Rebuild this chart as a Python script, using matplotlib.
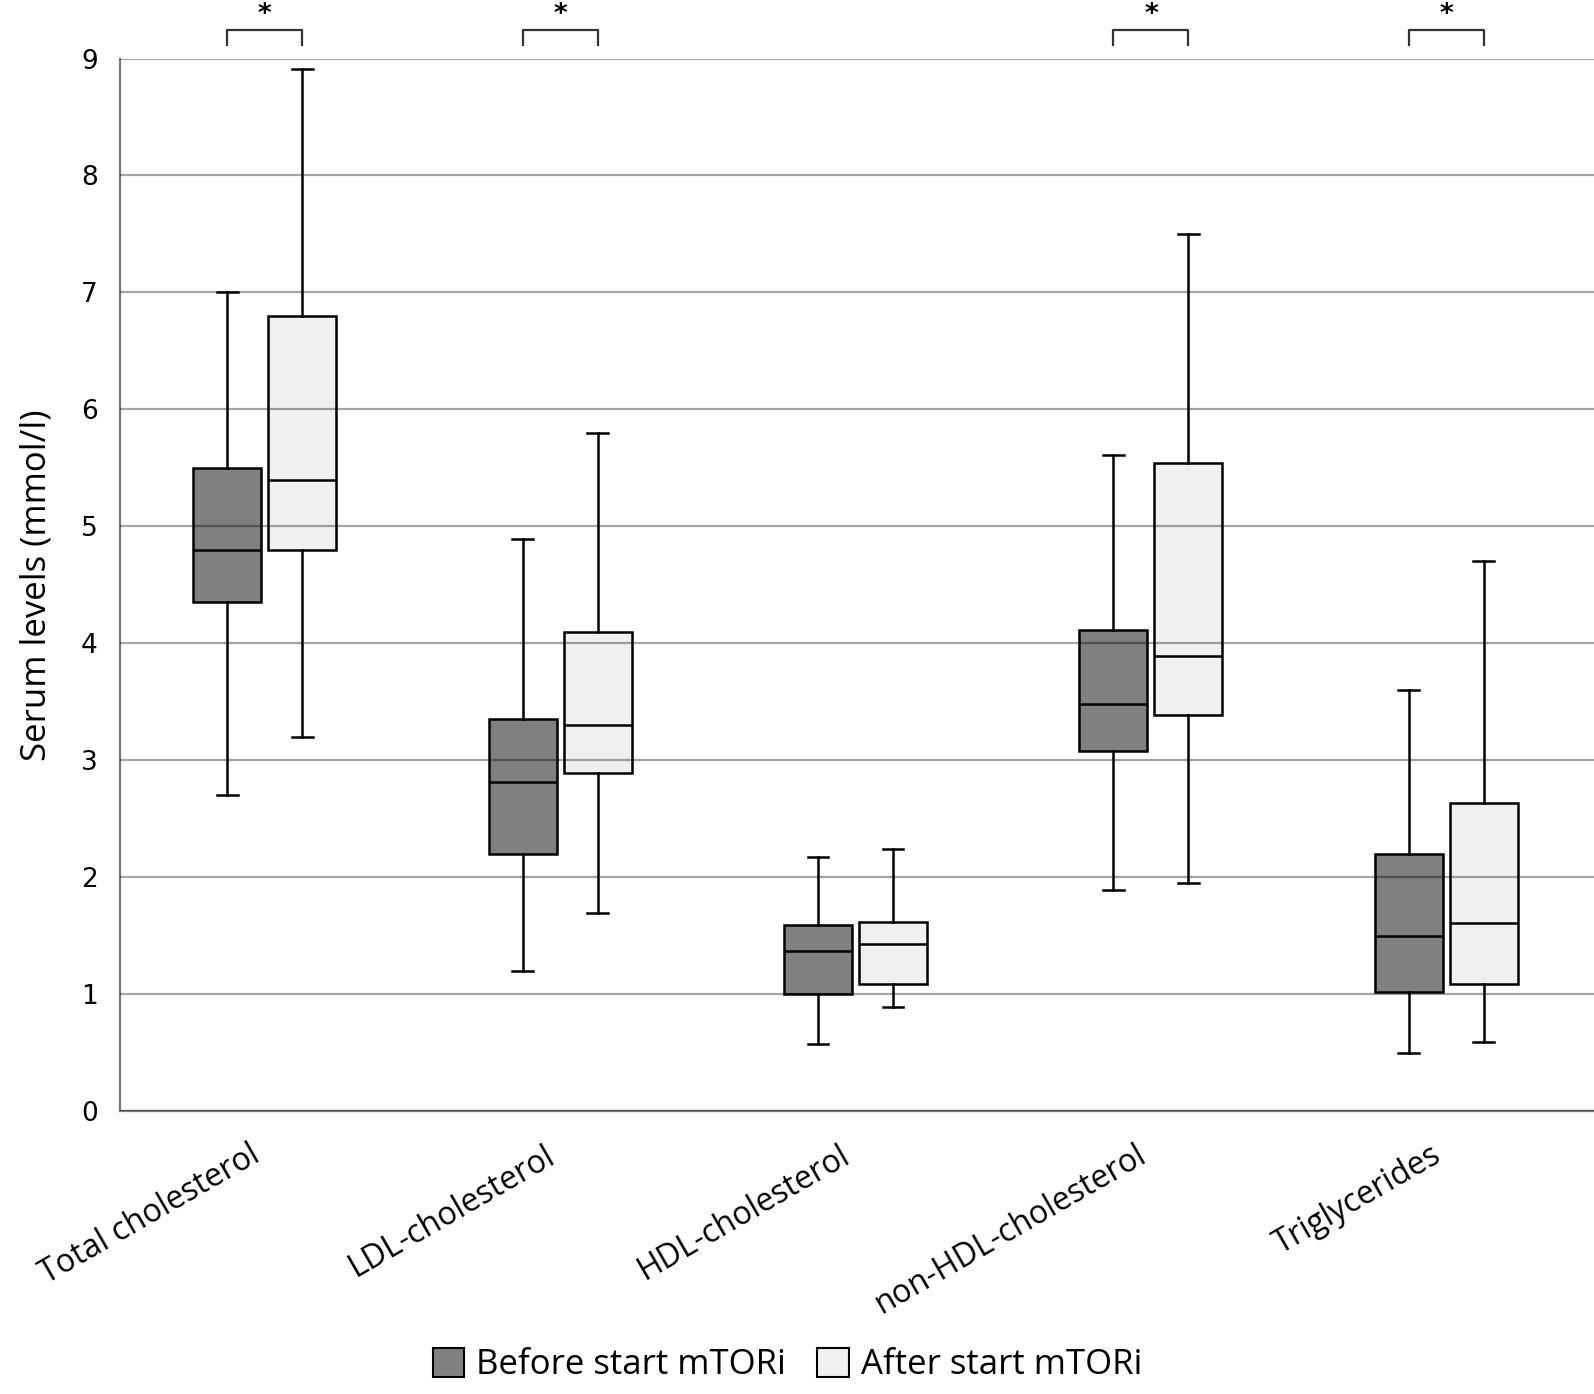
import matplotlib.pyplot as plt
from matplotlib.patches import Patch
from matplotlib.transforms import ScaledTranslation

################################
# data
################################

categories = ["Total cholesterol", "LDL-cholesterol", "HDL-cholesterol",
              "non-HDL-cholesterol", "Triglycerides"]

# whisker low, q1, median, q3, whisker high
before_low = [2.70, 1.20, 0.57, 1.89, 0.50]
before_q1 = [4.35, 2.20, 1.00, 3.08, 1.02]
before_med = [4.80, 2.81, 1.37, 3.48, 1.50]
before_q3 = [5.50, 3.35, 1.59, 4.11, 2.20]
before_high = [7.00, 4.89, 2.17, 5.61, 3.60]

after_low = [3.20, 1.69, 0.89, 1.95, 0.59]
after_q1 = [4.80, 2.89, 1.09, 3.39, 1.09]
after_med = [5.40, 3.30, 1.43, 3.89, 1.61]
after_q3 = [6.80, 4.10, 1.62, 5.54, 2.63]
after_high = [8.91, 5.80, 2.24, 7.50, 4.70]

significant = [True, True, False, True, True]

series_labels = ["Before start mTORi", "After start mTORi"]
colors = ["#808080", "#f0f0f0"]


def make_stats(low, q1, med, q3, high):
    return [dict(whislo=a, q1=b, med=c, q3=d, whishi=e, fliers=[])
            for a, b, c, d, e in zip(low, q1, med, q3, high)]


stats_before = make_stats(before_low, before_q1, before_med, before_q3, before_high)
stats_after = make_stats(after_low, after_q1, after_med, after_q3, after_high)

################################
# plot
################################

fig = plt.figure(figsize=(15.94, 13.94), dpi=100)
ax = fig.add_axes([0.0753, 0.203, 0.9247, 0.755])

offset = 0.127
width = 0.23
lw = 1.8
xs = list(range(len(categories)))

for stats, dx, col in [(stats_before, -offset, colors[0]), (stats_after, offset, colors[1])]:
    ax.bxp(stats, positions=[x + dx for x in xs], widths=width, patch_artist=True,
           showfliers=False, manage_ticks=False, zorder=1,
           boxprops=dict(facecolor=col, edgecolor="black", linewidth=lw),
           medianprops=dict(color="black", linewidth=lw),
           whiskerprops=dict(color="black", linewidth=lw),
           capprops=dict(color="black", linewidth=lw),
           capwidths=0.07)

ax.set_xlim(-0.49, 4.5)
ax.set_ylim(0, 9)
ax.set_yticks(range(10))
ax.set_axisbelow(False)
ax.yaxis.grid(True, color="black", alpha=0.35, linewidth=1.6)
ax.xaxis.grid(False)

for s in ["top", "right"]:
    ax.spines[s].set_visible(False)
for s in ["left", "bottom"]:
    ax.spines[s].set_color("#7a7a7a")
    ax.spines[s].set_linewidth(1.6)

ax.tick_params(axis="y", length=0, pad=16, labelsize=19)
ax.tick_params(axis="x", length=0, pad=20)
ax.set_xticks(xs)
ax.set_xticklabels(categories, rotation=30, ha="right", rotation_mode="anchor",
                   fontsize=23, family="Open Sans")
shift = ScaledTranslation(-16 / 100, 0, fig.dpi_scale_trans)
for lab in ax.get_xticklabels():
    lab.set_transform(lab.get_transform() + shift)
ax.set_ylabel("Serum levels (mmol/l)", fontsize=25, family="Open Sans", labelpad=20)

# significance brackets
for x, sig in zip(xs, significant):
    if not sig:
        continue
    x0, x1 = x - offset, x + offset
    ax.plot([x0, x0, x1, x1], [9.12, 9.24, 9.24, 9.12], color="#333333",
            linewidth=1.6, clip_on=False)
    ax.text(x, 9.48, "*", ha="center", va="top", fontsize=19,
            fontweight="bold", clip_on=False)

handles = [Patch(facecolor=c, edgecolor="black", linewidth=1.5) for c in colors]
fig.legend(handles, series_labels, loc="lower center", bbox_to_anchor=(0.494, -0.014),
           ncol=2, frameon=False, handlelength=0.9, handleheight=0.9,
           handletextpad=0.35, columnspacing=0.9, prop=dict(family="Open Sans", size=25))

fig.savefig("out.png", dpi=100)
